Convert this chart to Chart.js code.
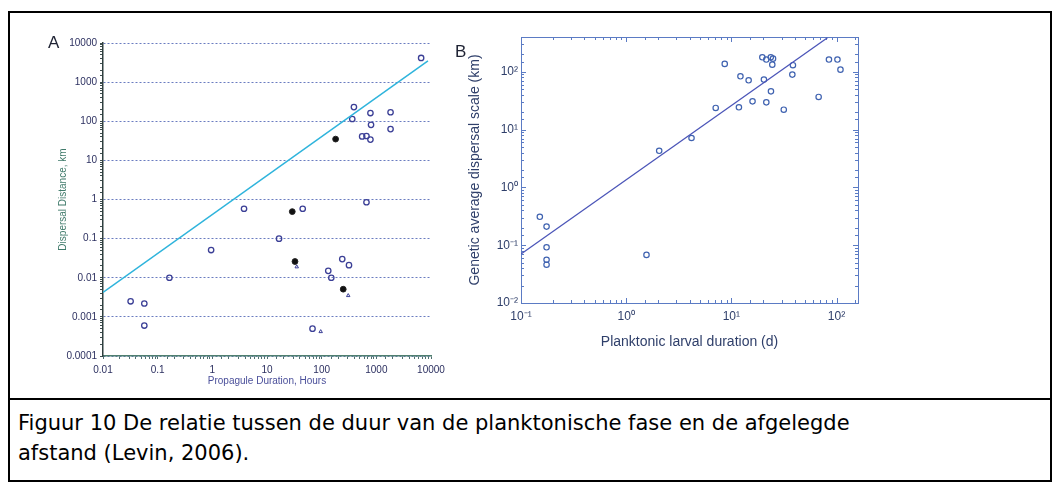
<!DOCTYPE html>
<html>
<head>
<meta charset="utf-8">
<script src="https://cdn.jsdelivr.net/npm/chart.js@4.4.0/dist/chart.umd.min.js"></script>
<style>
  html, body { margin: 0; padding: 0; background: #fff; }
  body { width: 1063px; height: 492px; position: relative; overflow: hidden; font-family: "DejaVu Sans", sans-serif; }
  #frame { position: absolute; left: 8px; top: 11px; width: 1040px; height: 467px; border: 2px solid #000; }
  #rule { position: absolute; left: 8px; top: 398px; width: 1044px; height: 2px; background: #000; }
  canvas { position: absolute; top: 0; }
  #chartA { left: 0; }
  #chartB { left: 440px; }
  #caption { position: absolute; left: 18px; top: 408px; font-size: 21px; line-height: 30px; color: #000; }
</style>
</head>
<body>
<div id="frame"></div>
<div id="rule"></div>
<canvas id="chartA" width="460" height="398"></canvas>
<canvas id="chartB" width="460" height="398"></canvas>
<div id="caption">Figuur 10 De relatie tussen de duur van de planktonische fase en de afgelegde<br>afstand (Levin, 2006).</div>

<script>
// ─── Panel A data (hours vs km) ──────────────────────────────────────
const aOpenX = [0.032, 0.057, 0.057, 0.164, 0.95, 3.8, 16.6, 45, 68, 132, 150, 238, 316, 389, 363, 550, 660, 780, 780, 800, 660, 1820, 1820, 6600];
const aOpenY = [0.0025, 0.0022, 0.0006, 0.01, 0.051, 0.58, 0.1, 0.58, 0.0005, 0.015, 0.01, 0.03, 0.021, 230, 114, 41, 42, 34, 162, 81, 0.85, 170, 63, 4150];
const aFilledX = [29, 32.5, 180, 248];
const aFilledY = [0.49, 0.026, 35, 0.0051];
const aMarkX = [35, 96, 306];
const aMarkY = [0.019, 0.00042, 0.0035];
const aFitX = [0.01, 8800];
const aFitY = [0.0042, 3500];
const aXLabels = ['0.01', '0.1', '1', '10', '100', '1000', '10000'];   // 10^-2 .. 10^4
const aYLabels = ['0.0001', '0.001', '0.01', '0.1', '1', '10', '100', '1000', '10000']; // 10^-4 .. 10^4

// ─── Panel B data (days vs km) ───────────────────────────────────────
const bX = [0.151, 0.175, 0.175, 0.175, 0.175, 1.56, 2.06, 4.18, 7.1, 8.65, 11.8, 12.2, 14.6, 15.9, 20.4, 21.5, 23.8, 31.5, 19.7, 21.5, 23.7, 24.9, 24.5, 38.5, 38, 67.6, 84.7, 102, 109];
const bY = [0.31, 0.21, 0.092, 0.056, 0.046, 0.068, 4.3, 7.15, 23.7, 137, 24.3, 83.6, 71.3, 30.8, 73.3, 29.6, 45.9, 22.1, 178, 163, 178, 169, 133, 130, 89.4, 36.7, 163, 163, 109];
const bFitX = [0.1, 82];
const bFitY = [0.0706, 387];
const bXLabels = ['10\u207B\u00B9', '10\u2070', '10\u00B9', '10\u00B2'];              // 10^-1 .. 10^2
const bYLabels = ['10\u207B\u00B2', '10\u207B\u00B9', '10\u2070', '10\u00B9', '10\u00B2']; // 10^-2 .. 10^2

const SANS = '"Liberation Sans", Arial, sans-serif';

function zip(xs, ys) {
    return xs.map((x, i) => ({ x: x, y: ys[i] }));
}

function decade(v) {
    const e = Math.log10(v);
    return Math.abs(e - Math.round(e)) < 1e-6 ? Math.round(e) : null;
}

function labelFrom(list, firstExp) {
    return function (value) {
        const e = decade(value);
        if (e === null) return '';
        return list[e - firstExp] || '';
    };
}

// panel letter drawn on the canvas
const panelTag = {
    id: 'panelTag',
    afterDraw(chart, args, opts) {
        const ctx = chart.ctx;
        ctx.save();
        ctx.font = '17px ' + SANS;
        ctx.fillStyle = '#1e2233';
        ctx.textBaseline = 'alphabetic';
        ctx.fillText(opts.text, opts.x, opts.y);
        ctx.restore();
    }
};

// box frame with inward ticks (MATLAB style), used in panel B
const boxTicks = {
    id: 'boxTicks',
    beforeDatasetsDraw(chart, args, opts) {
        if (!opts.enabled) return;
        const { ctx, chartArea: a } = chart;
        const xs = chart.scales.x, ys = chart.scales.y;
        ctx.save();
        ctx.strokeStyle = opts.color;
        ctx.lineWidth = 1;
        ctx.strokeRect(a.left + 0.5, a.top + 0.5, a.right - a.left, a.bottom - a.top);
        ctx.beginPath();
        xs.ticks.forEach(t => {
            const px = Math.round(xs.getPixelForValue(t.value)) + 0.5;
            if (px <= a.left + 1 || px >= a.right - 1) return;
            const len = decade(t.value) !== null ? 5 : 3;
            ctx.moveTo(px, a.bottom); ctx.lineTo(px, a.bottom - len);
            ctx.moveTo(px, a.top); ctx.lineTo(px, a.top + len);
        });
        ys.ticks.forEach(t => {
            const py = Math.round(ys.getPixelForValue(t.value)) + 0.5;
            if (py <= a.top + 1 || py >= a.bottom - 1) return;
            const len = decade(t.value) !== null ? 5 : 3;
            ctx.moveTo(a.left, py); ctx.lineTo(a.left + len, py);
            ctx.moveTo(a.right, py); ctx.lineTo(a.right - len, py);
        });
        ctx.stroke();
        ctx.restore();
    }
};

Chart.register(panelTag, boxTicks);

// ─── Panel A ─────────────────────────────────────────────────────────
const gridA = '#6a7cc0';
new Chart(document.getElementById('chartA'), {
    type: 'scatter',
    data: {
        datasets: [
            {
                data: zip(aFitX, aFitY), showLine: true, pointRadius: 0,
                borderColor: '#2fb4dc', borderWidth: 1.5
            },
            {
                data: zip(aOpenX, aOpenY), pointStyle: 'circle', pointRadius: 2.7,
                borderColor: '#3b3f96', backgroundColor: 'rgba(0,0,0,0)', pointBorderWidth: 1.3
            },
            {
                data: zip(aFilledX, aFilledY), pointStyle: 'circle', pointRadius: 2.9,
                borderColor: '#222', backgroundColor: '#111', pointBorderWidth: 1
            },
            {
                data: zip(aMarkX, aMarkY), pointStyle: 'triangle', pointRadius: 2,
                borderColor: '#3b3f96', backgroundColor: 'rgba(0,0,0,0)', pointBorderWidth: 1
            }
        ]
    },
    options: {
        responsive: false,
        animation: false,
        events: [],
        layout: { padding: { left: 50, top: 43, right: 29, bottom: 8 } },
        plugins: {
            legend: { display: false },
            tooltip: { enabled: false },
            panelTag: { text: 'A', x: 48, y: 48 },
            boxTicks: { enabled: false }
        },
        scales: {
            x: {
                type: 'logarithmic', min: 0.01, max: 10000,
                afterFit: s => { s.height = 34; },
                border: { display: true, color: '#4f7f6f', width: 1.5 },
                grid: { drawOnChartArea: false, drawTicks: true, tickLength: 3, tickColor: '#4f6f6f' },
                ticks: {
                    autoSkip: false, maxRotation: 0, padding: 5,
                    color: '#2c3060', font: { family: SANS, size: 10 },
                    callback: labelFrom(aXLabels, -2)
                },
                title: {
                    display: true, text: 'Propagule Duration, Hours',
                    color: '#4a4f9a', font: { family: SANS, size: 10 },
                    padding: { top: 0, bottom: 3 }
                }
            },
            y: {
                type: 'logarithmic', min: 0.0001, max: 10000,
                afterFit: s => { s.width = 53; },
                border: { display: true, color: '#2f3f3f', width: 1.5, dash: [2, 2] },
                grid: {
                    drawTicks: true, tickLength: 3, tickColor: '#3f4f4f',
                    color: ctx => (ctx.tick && decade(ctx.tick.value) !== null) ? gridA : 'rgba(0,0,0,0)',
                    lineWidth: 1
                },
                ticks: {
                    autoSkip: false, padding: 3,
                    color: '#2c3060', font: { family: SANS, size: 10 },
                    callback: labelFrom(aYLabels, -4)
                },
                title: {
                    display: true, text: 'Dispersal Distance, km',
                    color: '#3f7a6a', font: { family: SANS, size: 10 },
                    padding: { top: 7, bottom: 0 }
                }
            }
        }
    }
});

// ─── Panel B ─────────────────────────────────────────────────────────
const frameB = '#5b7bc4';
new Chart(document.getElementById('chartB'), {
    type: 'scatter',
    data: {
        datasets: [
            {
                data: zip(bFitX, bFitY), showLine: true, pointRadius: 0,
                borderColor: '#4b55b8', borderWidth: 1.3
            },
            {
                data: zip(bX, bY), pointStyle: 'circle', pointRadius: 2.7,
                borderColor: '#3f62b0', backgroundColor: 'rgba(0,0,0,0)', pointBorderWidth: 1.2
            }
        ]
    },
    options: {
        responsive: false,
        animation: false,
        events: [],
        layout: { padding: { left: 20, top: 37, right: 42, bottom: 40 } },
        plugins: {
            legend: { display: false },
            tooltip: { enabled: false },
            panelTag: { text: 'B', x: 15, y: 57 },
            boxTicks: { enabled: true, color: frameB }
        },
        scales: {
            x: {
                type: 'logarithmic', min: 0.1, max: 160,
                afterFit: s => { s.height = 55; },
                border: { display: false },
                grid: { display: false, drawTicks: false },
                ticks: {
                    autoSkip: false, maxRotation: 0, padding: 6,
                    color: '#2f3f6a', font: { family: SANS, size: 12 },
                    callback: labelFrom(bXLabels, -1)
                },
                title: {
                    display: true, text: 'Planktonic larval duration (d)',
                    color: '#2f3f6a', font: { family: SANS, size: 14 },
                    padding: { top: 0, bottom: 7.6 }
                }
            },
            y: {
                type: 'logarithmic', min: 0.01, max: 400,
                afterFit: s => { s.width = 61; },
                border: { display: false },
                grid: { display: false, drawTicks: false },
                ticks: {
                    autoSkip: false, padding: 3,
                    color: '#2f3f6a', font: { family: SANS, size: 12 },
                    callback: labelFrom(bYLabels, -2)
                },
                title: {
                    display: true, text: 'Genetic average dispersal scale (km)',
                    color: '#2f3f6a', font: { family: SANS, size: 14 },
                    padding: { top: 7, bottom: 0 }
                }
            }
        }
    }
});
</script>
</body>
</html>
